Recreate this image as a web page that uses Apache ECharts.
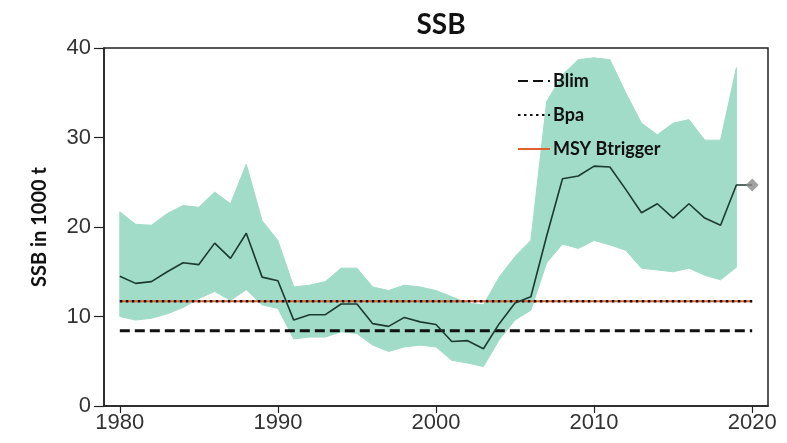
<!DOCTYPE html>
<html>
<head>
<meta charset="utf-8">
<script src="https://cdn.jsdelivr.net/npm/echarts@6/dist/echarts.min.js"></script>
<style>html,body{margin:0;padding:0;background:#fff}#c{width:787px;height:443px}</style>
</head>
<body>
<div id="c"></div>
<script>
const years = [1980,1981,1982,1983,1984,1985,1986,1987,1988,1989,1990,1991,1992,1993,1994,1995,1996,1997,1998,1999,2000,2001,2002,2003,2004,2005,2006,2007,2008,2009,2010,2011,2012,2013,2014,2015,2016,2017,2018,2019,2020];
const ssb = [14.5,13.7,13.9,15.0,16.0,15.8,18.2,16.5,19.3,14.4,14.0,9.6,10.2,10.2,11.4,11.4,9.2,8.9,9.9,9.4,9.1,7.2,7.3,6.4,9.2,11.5,12.2,19.0,25.4,25.7,26.8,26.7,24.2,21.6,22.6,21.0,22.6,21.0,20.2,24.7,24.7];
const bandYears = years.slice(0, 40);
const upper = [21.7,20.3,20.2,21.5,22.4,22.2,23.9,22.6,27.0,20.7,18.5,13.3,13.5,13.9,15.4,15.4,13.3,12.9,13.5,13.3,12.9,12.2,11.5,11.3,14.4,16.7,18.5,34.0,37.0,38.7,38.9,38.7,35.0,31.6,30.3,31.6,32.0,29.7,29.7,37.8];
const lower = [10.0,9.6,9.8,10.3,11.0,12.0,12.8,11.8,13.0,11.3,10.9,7.5,7.7,7.7,8.3,8.1,6.8,6.1,6.6,6.8,6.6,5.1,4.8,4.4,7.4,9.6,10.7,16.0,18.1,17.6,18.5,18.0,17.4,15.4,15.2,15.0,15.4,14.6,14.1,15.5];
const refStart = 1980, refEnd = 2020;
const blim = 8.4, bpa = 11.7, msyBtrigger = 11.7;
const xTicks = [1980,1990,2000,2010,2020];
const yMin = 0, yMax = 40, yStep = 10;
const assessYear = 2020, assessValue = 24.7;

const chart = echarts.init(document.getElementById('c'), null, {renderer:'canvas'});
const narrow = "'Liberation Sans Narrow','Arial Narrow',sans-serif";
const boldF = "Lato,'Open Sans',sans-serif";
const bandData = bandYears.map((y,i)=>[y, lower[i], upper[i]]);
chart.setOption({
  animation:false,
  backgroundColor:'#fff',
  title:{text:'SSB', left:436, top:6, textAlign:'center',
    textStyle:{fontFamily:boldF, fontWeight:'bold', fontSize:28, color:'#111'}},
  grid:{left:104, right:19, top:48, bottom:37, show:true, borderColor:'#222', borderWidth:1.5, backgroundColor:'transparent'},
  legend:{orient:'vertical', left:512, top:67, itemWidth:32, itemHeight:14, itemGap:16,
    data:['Blim','Bpa','MSY Btrigger'],
    itemStyle:{opacity:0},
    textStyle:{fontFamily:boldF, fontWeight:'bold', fontSize:18, color:'#111', padding:[0,0,0,-2]}},
  xAxis:{type:'value', min:1979, max:2021,
    axisLine:{show:true, lineStyle:{color:'#222', width:1.5}},
    axisTick:{show:true, length:7, customValues:xTicks, lineStyle:{color:'#222', width:1.2}},
    axisLabel:{customValues:xTicks, formatter:(v)=>String(v), fontFamily:narrow, fontSize:22, color:'#333', margin:6},
    splitLine:{show:false}},
  yAxis:{type:'value', min:yMin, max:yMax, interval:yStep,
    name:'SSB in 1000 t', nameLocation:'middle', nameRotate:90, nameGap:54,
    nameTextStyle:{fontFamily:boldF, fontWeight:'bold', fontSize:20, color:'#111'},
    axisLine:{show:true, lineStyle:{color:'#222', width:1.5}},
    axisTick:{show:true, length:10, lineStyle:{color:'#222', width:1.2}},
    axisLabel:{fontFamily:narrow, fontSize:22, color:'#333', margin:13},
    splitLine:{show:false}},
  series:[
    {name:'band', type:'custom', data:bandData, silent:true, z:1,
      encode:{x:0, y:[1,2]},
      renderItem:function(params, api){
        if (params.dataIndex !== 0) return null;
        const pts = [];
        for (let k=0;k<bandYears.length;k++) pts.push(api.coord([bandYears[k], upper[k]]));
        for (let k=bandYears.length-1;k>=0;k--) pts.push(api.coord([bandYears[k], lower[k]]));
        return {type:'polygon', shape:{points:pts}, style:{fill:'#a0dcc8', stroke:'#a0dcc8', lineWidth:1}};
      }},
    {name:'MSY Btrigger', type:'line', data:[[refStart,msyBtrigger],[refEnd,msyBtrigger]], symbol:'none',
      lineStyle:{color:'#e2602e', width:2}, itemStyle:{color:'#e2602e'}, z:3},
    {name:'Bpa', type:'line', data:[[refStart,bpa],[refEnd,bpa]], symbol:'none',
      lineStyle:{color:'#111', width:2.5, type:[2.5,3.5]}, itemStyle:{color:'#111'}, z:4},
    {name:'Blim', type:'line', data:[[refStart,blim],[refEnd,blim]], symbol:'none',
      lineStyle:{color:'#111', width:3, type:[10,5]}, itemStyle:{color:'#111'}, z:4},
    {name:'SSB', type:'line', data:years.map((y,i)=>[y, ssb[i]]), symbol:'none',
      lineStyle:{color:'#1d3a30', width:1.6}, z:5},
    {name:'assessment', type:'scatter', data:[[assessYear, assessValue]], symbol:'diamond', symbolSize:13,
      itemStyle:{color:'#8a8a8a'}, z:6}
  ]
});
</script>
</body>
</html>
